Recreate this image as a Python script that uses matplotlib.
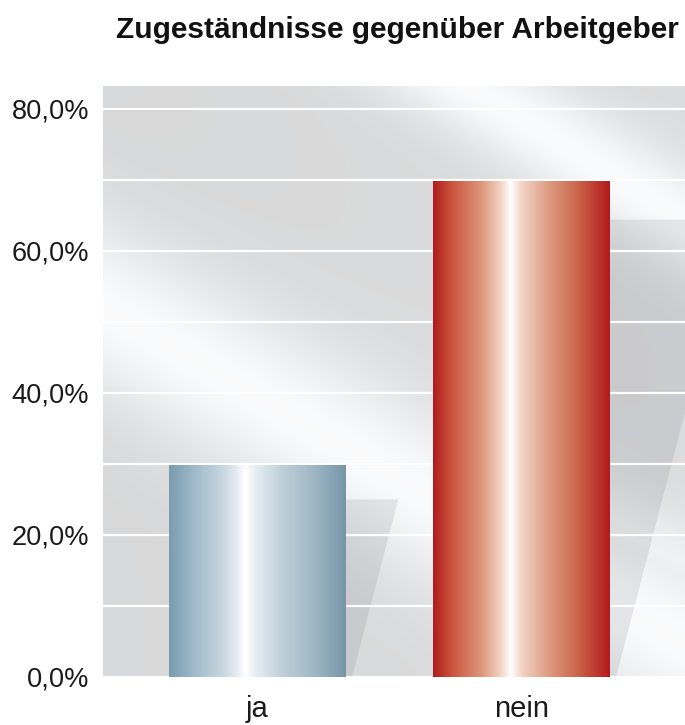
import numpy as np
import matplotlib
matplotlib.use("Agg")
import matplotlib.pyplot as plt
from matplotlib.colors import LinearSegmentedColormap
from matplotlib.ticker import FuncFormatter, MultipleLocator

# ---------------- data ----------------
title = "Zugeständnisse gegenüber Arbeitgeber"
categories = ["ja", "nein"]
values = [29.9, 69.8]
shadow_tops = [25.0, 64.4]
y_ticks = [0, 20, 40, 60, 80]

# ---------------- figure ----------------
W, H = 685, 725
DPI = 100
plt.rcParams['font.family'] = ['Liberation Sans', 'DejaVu Sans']
fig = plt.figure(figsize=(W / DPI, H / DPI), dpi=DPI)
fig.patch.set_facecolor('white')

ax_l, ax_r, ax_t, ax_b = 103, 685, 86, 677
ax = fig.add_axes([ax_l / W, 1 - ax_b / H, (ax_r - ax_l) / W, (ax_b - ax_t) / H])

x = np.arange(len(categories))
bar_w = 0.67
xlim = (-0.585, 1.619)
ylim = (0, 83.2)

# ---------------- background (light rays) ----------------
nx, ny = ax_r - ax_l, ax_b - ax_t
X, Y = np.meshgrid(np.arange(ax_l, ax_r) + 0.5, np.arange(ax_t, ax_b) + 0.5)

def band(x0, y0, slope, sigma):
    d = ((Y - y0) - slope * (X - x0)) / np.sqrt(1 + slope ** 2)
    return np.exp(-d ** 2 / (2 * sigma ** 2))

base = 0.852 + 0.015 * (X - ax_l) / nx
b1 = band(100, 305, 0.58, 55)
b2 = band(515, 115, 0.62, 34)
b3 = band(380, 425, 0.45, 32) * 0.65
b4 = np.exp(-((X - 690) ** 2 + (Y - 640) ** 2) / (2 * 70 ** 2)) * 0.6
light = np.clip(np.maximum.reduce([b1, b2, b3, b4]), 0, 1)
val = base + (0.988 - base) * light
img = np.dstack([val * 0.993, val * 0.996, val * 1.0])
img = np.clip(img, 0, 1)
ax.imshow(img, extent=[xlim[0], xlim[1], ylim[0], ylim[1]], origin='upper',
          aspect='auto', zorder=0, interpolation='bilinear')

# ---------------- shadows ----------------
off_b = 0.023
k = 0.0070
for xi, st in zip(x, shadow_tops):
    xr = xi + bar_w / 2
    ax.fill([xi, xr + off_b, xr + off_b + k * st, xi], [0, 0, st, st],
            color=(0.35, 0.37, 0.42), alpha=0.13, lw=0, zorder=1)

# ---------------- grid ----------------
ax.set_yticks(y_ticks)
ax.yaxis.set_minor_locator(MultipleLocator(10))
ax.set_axisbelow(False)
ax.grid(True, axis='y', which='both', color='white', lw=1.6)

# ---------------- bars ----------------
blue = LinearSegmentedColormap.from_list('steel', [
    (0.00, '#7a9cae'), (0.15, '#a2bccb'), (0.30, '#c6d6df'), (0.38, '#e4ecf1'),
    (0.43, '#ffffff'), (0.49, '#e6eef2'), (0.62, '#c3d3dc'), (0.82, '#9fb7c4'),
    (1.00, '#7696a8')])
red = LinearSegmentedColormap.from_list('red', [
    (0.00, '#b01c1c'), (0.10, '#c9523a'), (0.28, '#dd9a7e'), (0.38, '#f2d2c2'),
    (0.44, '#ffffff'), (0.50, '#f3d4c6'), (0.66, '#dc9a80'), (0.82, '#cb6449'),
    (1.00, '#b21a1d')])
cmaps = [blue, red]
bars = ax.bar(x, values, width=bar_w, color='none', edgecolor='none', zorder=3)
grad = np.linspace(0, 1, 512).reshape(1, -1)
for rect, cm in zip(bars, cmaps):
    x0, y0 = rect.get_x(), rect.get_y()
    w, h = rect.get_width(), rect.get_height()
    im = ax.imshow(grad, cmap=cm, extent=[x0, x0 + w, y0, y0 + h],
                   aspect='auto', zorder=3, interpolation='bilinear')
    im.set_clip_path(rect)

ax.set_xlim(*xlim)
ax.set_ylim(*ylim)

# ---------------- axes styling ----------------
for s in ax.spines.values():
    s.set_visible(False)
ax.yaxis.set_major_formatter(FuncFormatter(lambda v, p: f"{v:.1f}%".replace('.', ',')))
ax.tick_params(axis='y', which='both', length=0, labelsize=19.6, pad=10, colors='#1a1a1a')
ax.set_xticks(x)
ax.set_xticklabels(categories)
ax.tick_params(axis='x', length=0, labelsize=21, pad=13, colors='#1a1a1a')

# ---------------- title ----------------
t = fig.text(397 / W, 1 - 30 / H, title, ha='center', va='center',
             fontweight='bold', fontsize=18, color='#111111')
fig.canvas.draw()
bb = t.get_window_extent()
target_w = 564
t.set_fontsize(18 * target_w / bb.width)

fig.savefig('out.png', dpi=DPI, facecolor='white')
